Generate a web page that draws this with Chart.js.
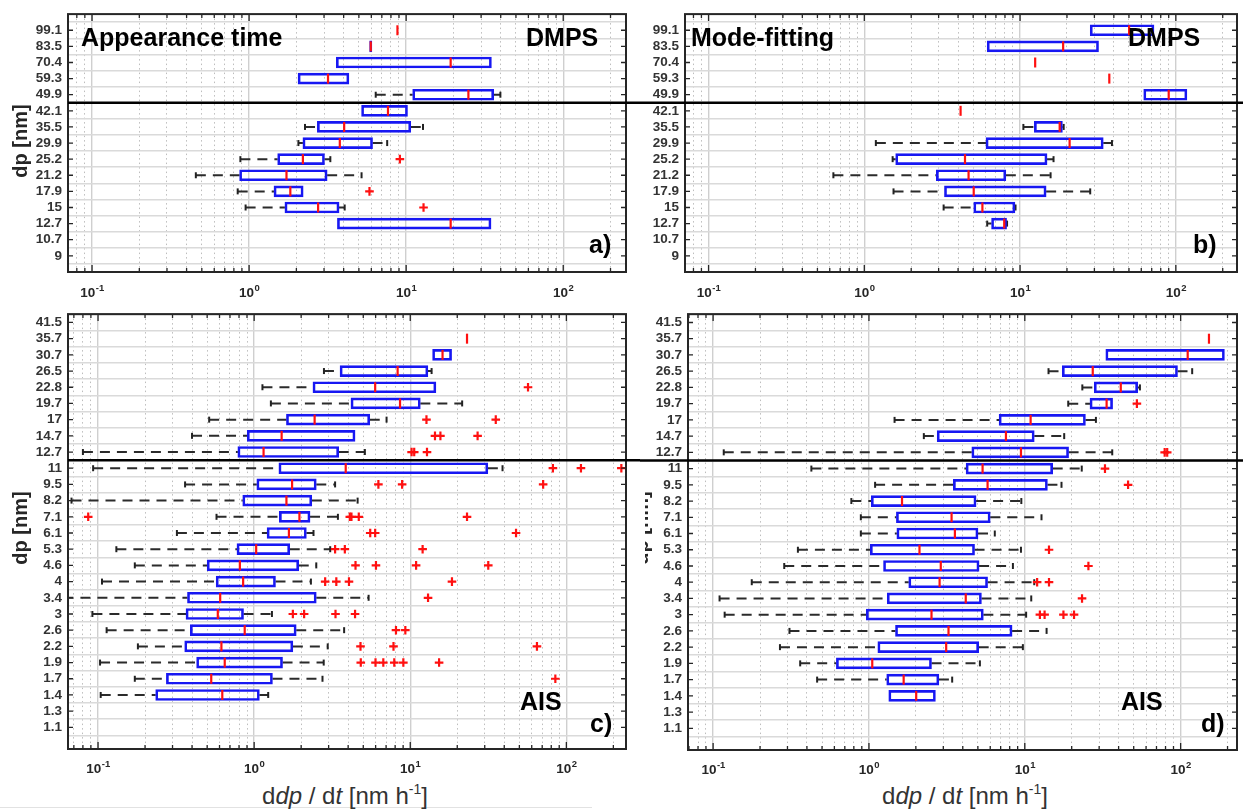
<!DOCTYPE html>
<html><head><meta charset="utf-8">
<script src="https://cdn.jsdelivr.net/npm/chart.js@4.4.1/dist/chart.umd.min.js"></script>
<style>
html,body{margin:0;padding:0;background:#fff;}
#wrap{position:relative;width:1245px;height:810px;overflow:hidden;font-family:"Liberation Sans",Arial,sans-serif;background:#fff;}
canvas{position:absolute;}
.t{position:absolute;white-space:nowrap;line-height:1;font-weight:bold;color:#000;font-size:25px;z-index:5;}
.yt{position:absolute;white-space:nowrap;line-height:1;font-weight:bold;color:#262626;font-size:20px;transform:translate(-50%,-50%) rotate(-90deg);z-index:5;}
.xt{position:absolute;white-space:nowrap;line-height:1;color:#333;font-size:24px;transform:translateX(-50%);z-index:5;}
.xt sup{font-size:14px;vertical-align:10px;line-height:0;}
</style></head><body>
<div id="wrap">
<canvas id="ca" width="640" height="300" style="left:0;top:0"></canvas>
<canvas id="cb" width="605" height="300" style="left:640px;top:0"></canvas>
<canvas id="cc" width="640" height="480" style="left:0;top:300px"></canvas>
<canvas id="cd" width="605" height="480" style="left:640px;top:300px"></canvas>

<div class="t" style="left:81px;top:24.8px">Appearance time</div>
<div class="t" style="left:526px;top:24.8px">DMPS</div>
<div class="t" style="left:589px;top:231.8px">a)</div>
<div class="t" style="left:691px;top:24.8px">Mode-fitting</div>
<div class="t" style="left:1128px;top:24.8px">DMPS</div>
<div class="t" style="left:1193px;top:231.8px">b)</div>
<div class="t" style="left:520px;top:688.8px">AIS</div>
<div class="t" style="left:590px;top:710.8px">c)</div>
<div class="t" style="left:1121px;top:688.8px">AIS</div>
<div class="t" style="left:1201px;top:710.8px">d)</div>

<div class="yt" style="left:20px;top:141px">dp [nm]</div>
<div class="yt" style="left:20px;top:528px">dp [nm]</div>
<div style="position:absolute;left:645px;top:470px;width:14px;height:120px;overflow:hidden;z-index:5">
  <div class="yt" style="left:-4px;top:58px">dp [nm]</div>
</div>

<div class="xt" style="left:345px;top:784px">d<i>dp</i> / d<i>t</i> [nm h<sup>-1</sup>]</div>
<div class="xt" style="left:965px;top:784px">d<i>dp</i> / d<i>t</i> [nm h<sup>-1</sup>]</div>
<div style="position:absolute;left:0;top:807px;width:592px;height:1px;background:#e2e2e2"></div>
</div>

<script>
// ================= DATA =================
// Panel a: Appearance time (DMPS)
const aLabels = ['99.1','83.5','70.4','59.3','49.9','42.1','35.5','29.9','25.2','21.2','17.9','15','12.7','10.7','9'];
const aQ1  = [null, 5.85, 3.59, 2.05, 11.0, 5.2, 2.72, 2.2, 1.52, 0.87, 1.44, 1.69, 3.65, null, null];
const aQ3  = [null, 6.05, 34.9, 4.32, 36.1, 10.2, 10.7, 6.11, 3.02, 3.14, 2.21, 3.74, 34.7, null, null];
const aMed = [8.8, 5.95, 19.2, 3.18, 24.9, 7.66, 4.03, 3.78, 2.2, 1.73, 1.83, 2.75, 19.2, null, null];
const aLo  = [null, null, null, null, 6.4, null, 2.27, 2.06, 0.88, 0.458, 0.846, 0.95, null, null, null];
const aHi  = [null, null, null, null, 39.8, null, 12.8, 7.57, 3.29, 5.2, null, 4.06, null, null, null];
const aOut = [[],[],[],[],[],[],[],[],[9.12],[],[5.84],[12.9],[],[],[]];

// Panel b: Mode-fitting (DMPS)
const bLabels = aLabels;
const bQ1  = [28.2, 6.15, null, null, 62.2, null, 12.35, 6.04, 1.59, 2.9, 3.27, 5.04, 6.56, null, null];
const bQ3  = [72.4, 31.9, null, null, 117.8, null, 18.7, 34.2, 14.9, 8.1, 14.7, 9.27, 8.19, null, null];
const bMed = [50.1, 18.9, 12.5, 37.4, 90, 4.15, 17.96, 20.8, 4.43, 4.67, 5.04, 5.73, 7.91, null, null];
const bLo  = [null, null, null, null, null, null, 10.5, 1.186, 1.52, 0.633, 1.54, 3.23, 6.15, null, null];
const bHi  = [null, null, null, null, null, null, 19.05, 38.9, 16.4, 15.7, 28.2, 9.35, 8.25, null, null];
const bOut = [[],[],[],[],[],[],[],[],[],[],[],[],[],[],[]];

// Panel c: Appearance time (AIS)
const cLabels = ['41.5','35.7','30.7','26.5','22.8','19.7','17','14.7','12.7','11','9.5','8.2','7.1','6.1','5.3','4.6','4','3.4','3','2.6','2.2','1.9','1.7','1.4','1.3','1.1'];
const cQ1  = [null, null, 13.9, 3.55, 2.38, 4.17, 1.61, 0.903, 0.786, 1.44, 1.04, 0.845, 1.45, 1.21, 0.776, 0.5, 0.571, 0.374, 0.366, 0.39, 0.359, 0.428, 0.274, 0.234, null, null];
const cQ3  = [null, null, 18.4, 12.97, 14.6, 11.6, 5.5, 4.43, 3.48, 31.4, 2.5, 2.34, 2.28, 2.16, 1.69, 1.93, 1.37, 2.5, 0.855, 1.86, 1.77, 1.52, 1.31, 1.08, null, null];
const cMed = [null, 23.1, 16.1, 8.3, 5.96, 8.6, 2.44, 1.5, 1.149, 3.86, 1.75, 1.61, 1.95, 1.67, 1.03, 0.81, 0.85, 0.606, 0.585, 0.87, 0.617, 0.648, 0.531, 0.625, null, null];
const cLo  = [null, null, null, 2.8, 1.13, 1.28, 0.515, 0.4, 0.08, 0.093, 0.361, 0.0676, 0.574, 0.32, 0.131, 0.172, 0.106, 0.06, 0.092, 0.1135, 0.18, 0.103, 0.172, 0.104, null, null];
const cHi  = [null, null, null, 13.7, null, 21.5, 7.05, null, 5.12, 39, 3.3, 4.6, 3.44, 2.4, 3.07, 2.5, 2.31, 5.41, 1.3, 3.77, 2.96, 2.79, 2.74, 1.23, null, null];
const cOut = [[],[],[],[],[56.8],[],[12.7,35.3],[14.4,15.6,27.0],[10.2,10.6,12.8],[82,124,225],[6.25,8.87,71],[],
  [0.0865,4.1,4.2,4.68,23.1],[5.54,5.96,47.6],[3.3,3.81,12.0],[4.46,6.03,10.9,31.6],[2.85,3.36,4.05,18.5],[13.0],
  [1.77,2.09,3.32,4.43],[8.1,9.3],[4.8,7.81,64.8],[4.82,5.99,6.72,7.9,9.03,15.3],[85],[],[],[]];

// Panel d: Mode-fitting (AIS)
const dLabels = cLabels;
const dQ1  = [null, null, 33.1, 17.4, 27.9, 26.2, 6.84, 2.74, 4.57, 4.2, 3.48, 1.035, 1.5, 1.51, 1.02, 1.24, 1.8, 1.31, 0.962, 1.48, 1.14, 0.618, 1.3, 1.34, null, null];
const dQ3  = [null, null, 191, 95.5, 53, 36.6, 24.5, 11.5, 19.1, 15.1, 13.97, 4.87, 6.0, 5.01, 4.76, 5.09, 5.77, 5.27, 5.42, 8.29, 5.06, 2.52, 2.81, 2.67, null, null];
const dMed = [null, 152, 111, 27.3, 41.3, 33.5, 10.9, 7.57, 9.45, 5.36, 5.77, 1.63, 3.39, 3.56, 2.11, 2.89, 2.84, 4.18, 2.52, 3.24, 3.13, 1.05, 1.67, 2.01, null, null];
const dLo  = [null, null, null, 14.2, 23.4, 19, 1.46, 2.25, 0.117, 0.427, 1.095, 0.771, 0.887, 0.887, 0.35, 0.286, 0.177, 0.110, 0.1186, 0.309, 0.2685, 0.362, 0.465, null, null, null];
const dHi  = [null, null, null, 118.6, 54.8, null, 28.6, 17.9, 36.4, 23.2, 17.2, 9.5, 12.8, 6.42, 9.45, 8.39, 11.5, 11.0, 10.2, 13.8, 9.72, 5.15, 3.42, null, null, null];
const dOut = [[],[],[],[],[],[52.4],[],[],[79,82],[32.7],[46],[],[],[],[14.3],[25.6],[12.0,14.3],[23.3],[12.5,13.4,17.7,20.7],[],[],[],[],[],[],[]];

// ================= STYLE / LAYOUT =================
const FONT = '"Liberation Sans", Arial, sans-serif';
const BLUE = '#1717f2', RED = '#ff1010', INK = '#262626';

function isDecade(v){ const l = Math.log10(v); return Math.abs(l - Math.round(l)) < 1e-6; }
function logTicks(min, max){
  const t = [];
  for (let e = Math.floor(Math.log10(min)); e <= Math.ceil(Math.log10(max)); e++){
    for (let m = 1; m < 10; m++){
      const v = parseFloat((m * Math.pow(10, e)).toPrecision(6));
      if (v >= min && v <= max) t.push(v);
    }
  }
  return t;
}

const framePlugin = {
  id: 'frame',
  afterDatasetsDraw(chart, args, o){
    const {ctx, chartArea: ca} = chart;
    const x = chart.scales.x, y = chart.scales.y;
    ctx.save();
    ctx.strokeStyle = INK; ctx.lineWidth = 1.3;
    ctx.beginPath();
    x.ticks.forEach(t => {
      const px = x.getPixelForValue(t.value);
      const L = isDecade(t.value) ? 7 : 4;
      ctx.moveTo(px, ca.bottom); ctx.lineTo(px, ca.bottom - L);
      ctx.moveTo(px, ca.top); ctx.lineTo(px, ca.top + L);
    });
    y.ticks.forEach(t => {
      const py = y.getPixelForValue(t.value);
      ctx.moveTo(ca.left, py); ctx.lineTo(ca.left + 5, py);
      ctx.moveTo(ca.right, py); ctx.lineTo(ca.right - 5, py);
    });
    ctx.stroke();
    ctx.lineWidth = 2; ctx.strokeStyle = INK;
    ctx.strokeRect(ca.left, ca.top, ca.right - ca.left, ca.bottom - ca.top);
    const sy = y.getPixelForValue(o.sep + 0.5);
    ctx.lineWidth = 2.5; ctx.strokeStyle = '#000';
    ctx.beginPath();
    ctx.moveTo(o.sepL == null ? ca.left : o.sepL, sy);
    ctx.lineTo(o.sepR, sy);
    ctx.stroke();
    ctx.fillStyle = INK; ctx.textAlign = 'left'; ctx.textBaseline = 'alphabetic';
    const e0 = Math.ceil(Math.log10(x.min) - 1e-9), e1 = Math.floor(Math.log10(x.max) + 1e-9);
    for (let e = e0; e <= e1; e++){
      const px = x.getPixelForValue(Math.pow(10, e));
      const es = String(e);
      ctx.font = 'bold 13.5px ' + FONT; const w1 = ctx.measureText('10').width;
      ctx.font = 'bold 9.5px ' + FONT; const w2 = ctx.measureText(es).width;
      const x0 = px - (w1 + w2) / 2, base = ca.bottom + o.labelDy;
      ctx.font = 'bold 13.5px ' + FONT; ctx.fillText('10', x0, base);
      ctx.font = 'bold 9.5px ' + FONT; ctx.fillText(es, x0 + w1 + 0.5, base - 6);
    }
    ctx.restore();
  }
};

function makePanel(id, d, L){
  const rows = d.labels.map((_, i) => i);
  const boxes = rows.filter(i => d.q1[i] != null).map(i => ({y: i, x: [d.q1[i], d.q3[i]]}));
  const whisk = [];
  rows.forEach(i => {
    if (d.lo[i] != null){ whisk.push({x: d.lo[i], y: i}, {x: d.q1[i], y: i}, {x: null, y: i}); }
    if (d.hi[i] != null){ whisk.push({x: d.q3[i], y: i}, {x: d.hi[i], y: i}, {x: null, y: i}); }
  });
  const caps = [];
  rows.forEach(i => {
    if (d.lo[i] != null) caps.push({x: d.lo[i], y: i});
    if (d.hi[i] != null) caps.push({x: d.hi[i], y: i});
  });
  const meds = rows.filter(i => d.med[i] != null).map(i => ({x: d.med[i], y: i}));
  const outs = [];
  rows.forEach(i => d.out[i].forEach(v => outs.push({x: v, y: i})));

  const xt = logTicks(L.xMin, L.xMax);
  return new Chart(document.getElementById(id), {
    type: 'bar',
    data: {
      datasets: [
        {type: 'scatter', data: meds, order: 0, pointStyle: 'line', rotation: 90, radius: 5,
         borderColor: RED, backgroundColor: RED, borderWidth: 2.2, showLine: false},
        {type: 'scatter', data: outs, order: 1, pointStyle: 'cross', radius: 4.3,
         borderColor: RED, backgroundColor: RED, borderWidth: 2.2, showLine: false},
        {type: 'bar', data: boxes, order: 2, barThickness: 11, borderWidth: 2,
         borderColor: BLUE, backgroundColor: 'rgba(0,0,0,0)', borderSkipped: false},
        {type: 'scatter', data: caps, order: 3, pointStyle: 'line', rotation: 90, radius: 3,
         borderColor: '#222', backgroundColor: '#222', borderWidth: 2, showLine: false},
        {type: 'line', data: whisk, order: 4, borderColor: '#2b2b2b', borderWidth: 2,
         borderDash: [10, 7], pointRadius: 0, spanGaps: false, fill: false, tension: 0}
      ]
    },
    options: {
      indexAxis: 'y',
      responsive: false,
      animation: false,
      events: [],
      layout: {padding: {top: L.padTop, right: L.padRight, left: 0, bottom: 0}},
      plugins: {legend: {display: false}, tooltip: {enabled: false},
        frame: {sep: L.sep, sepL: L.sepL, sepR: L.sepR, labelDy: L.labelDy}},
      scales: {
        x: {
          type: 'logarithmic', position: 'bottom', min: L.xMin, max: L.xMax,
          afterBuildTicks: s => { s.ticks = xt.map(v => ({value: v})); },
          afterFit: s => { s.height = L.xAxisH; },
          ticks: {display: false, autoSkip: false},
          grid: {
            drawTicks: false,
            color: c => (c.tick && isDecade(c.tick.value)) ? '#cfcfcf' : '#bdbdbd',
            lineWidth: c => (c.tick && isDecade(c.tick.value)) ? 1.4 : 1
          },
          border: {display: false, dash: c => (c.tick && !isDecade(c.tick.value)) ? [1.5, 3] : []}
        },
        y: {
          type: 'linear', reverse: true, min: L.yMin, max: L.yMax,
          afterBuildTicks: s => { s.ticks = rows.map(i => ({value: i})); },
          afterFit: s => { s.width = L.yAxisW; },
          ticks: {autoSkip: false, padding: 6, color: '#333',
                  font: {family: FONT, size: 13.5, weight: 'bold'},
                  callback: v => d.labels[v]},
          grid: {drawTicks: false, color: '#dadada', lineWidth: 1.6},
          border: {display: false}
        }
      }
    },
    plugins: [framePlugin]
  });
}

makePanel('ca', {labels: aLabels, q1: aQ1, q3: aQ3, med: aMed, lo: aLo, hi: aHi, out: aOut},
  {xMin: 0.0703, xMax: 251, yMin: -0.47, yMax: 14.47, yAxisW: 68, padTop: 10, padRight: 14, xAxisH: 28,
   sep: 4, sepL: null, sepR: 640, labelDy: 25});
makePanel('cb', {labels: bLabels, q1: bQ1, q3: bQ3, med: bMed, lo: bLo, hi: bHi, out: bOut},
  {xMin: 0.0706, xMax: 247, yMin: -0.47, yMax: 14.47, yAxisW: 45, padTop: 10, padRight: 8, xAxisH: 28,
   sep: 4, sepL: 0, sepR: 603, labelDy: 25});
makePanel('cc', {labels: cLabels, q1: cQ1, q3: cQ3, med: cMed, lo: cLo, hi: cHi, out: cOut},
  {xMin: 0.0642, xMax: 241, yMin: 0, yMax: 25.82, yAxisW: 68, padTop: 9, padRight: 14, xAxisH: 31,
   sep: 8, sepL: null, sepR: 640, labelDy: 24});
makePanel('cd', {labels: dLabels, q1: dQ1, q3: dQ3, med: dMed, lo: dLo, hi: dHi, out: dOut},
  {xMin: 0.069, xMax: 230, yMin: 0, yMax: 25.82, yAxisW: 48, padTop: 11, padRight: 8, xAxisH: 30,
   sep: 8, sepL: 0, sepR: 603, labelDy: 24});
</script>
</body></html>
